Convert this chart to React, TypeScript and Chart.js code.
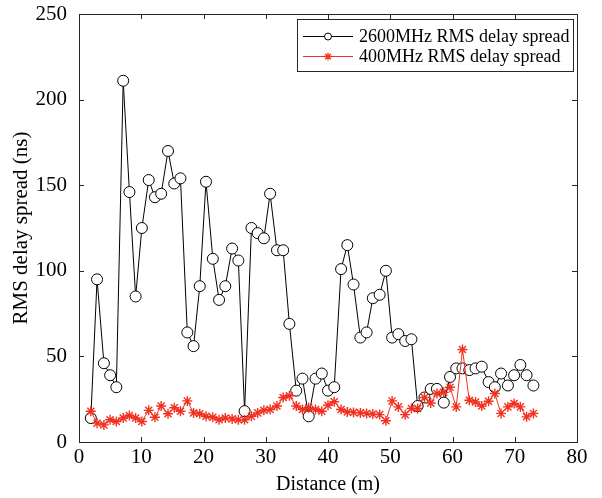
import React, { useEffect, useRef } from "react";
import { Chart, registerables } from "chart.js";

Chart.register(...registerables);

// ---- data ----
const distances = [
  1.9, 2.9, 4.0, 5.0, 6.0, 7.1, 8.1, 9.1, 10.1, 11.2,
  12.2, 13.2, 14.3, 15.3, 16.3, 17.4, 18.4, 19.4, 20.4, 21.5,
  22.5, 23.5, 24.6, 25.6, 26.6, 27.7, 28.7, 29.7, 30.7, 31.8,
  32.8, 33.8, 34.9, 35.9, 36.9, 38.0, 39.0, 40.0, 41.0, 42.1,
  43.1, 44.1, 45.2, 46.2, 47.2, 48.3, 49.3, 50.3, 51.3, 52.4,
  53.4, 54.4, 55.5, 56.5, 57.5, 58.6, 59.6, 60.6, 61.6, 62.7,
  63.7, 64.7, 65.8, 66.8, 67.8, 68.9, 69.9, 70.9, 71.9, 73.0,
];

const rms2600 = [
  14, 95, 46, 39, 32, 211, 146, 85, 125, 153,
  143, 145, 170, 151, 154, 64, 56, 91, 152, 107,
  83, 91, 113, 106, 18, 125, 122, 119, 145, 112,
  112, 69, 30, 37, 15, 37, 40, 30, 32, 101,
  115, 92, 61, 64, 84, 86, 100, 61, 63, 59,
  60, 21, 26, 31, 31, 23, 38, 43, 43, 42,
  43, 44, 35, 32, 40, 33, 39, 45, 39, 33,
];

const rms400 = [
  18, 11, 10, 13, 12, 14, 15.5, 14, 12, 18.5,
  14.5, 21, 16.5, 20, 18, 24, 17, 16.5, 15, 14.5,
  13, 14, 13.5, 13, 13, 15, 17, 18.5, 19, 21,
  26, 27, 21, 19, 20, 19, 18, 21.5, 23.5, 19,
  17.5, 17.3, 17, 16.7, 16.3, 16, 12.4, 24, 20.5, 16,
  19.6, 19.6, 26, 22.8, 28.3, 29, 32, 20.5, 54, 24.4,
  23.4, 21, 23.8, 28.3, 16.7, 20.5, 22.5, 20.5, 14.7, 16.7,
];

const xTicks = [0, 10, 20, 30, 40, 50, 60, 70, 80];
const yTicks = [0, 50, 100, 150, 200, 250];
const seriesLabels = ["2600MHz RMS delay spread", "400MHz RMS delay spread"];
const xTitle = "Distance (m)";
const yTitle = "RMS delay spread (ns)";

const AXIS_COLOR = "#262626";
const BLACK = "#000000";
const RED = "#f2301f";
const FONT = "'Liberation Serif', 'Times New Roman', serif";

const boxTicksLegend = {
  id: "boxTicksLegend",
  afterDraw(chart: any) {
    const { ctx, chartArea: a, scales } = chart;
    ctx.save();
    ctx.strokeStyle = AXIS_COLOR;
    ctx.lineWidth = 1;
    ctx.strokeRect(Math.round(a.left) + 0.5, Math.round(a.top) + 0.5, Math.round(a.right - a.left), Math.round(a.bottom - a.top));
    const L = 5;
    ctx.beginPath();
    xTicks.forEach((v) => {
      const px = Math.round(scales.x.getPixelForValue(v)) + 0.5;
      ctx.moveTo(px, a.bottom);
      ctx.lineTo(px, a.bottom - L);
      ctx.moveTo(px, a.top);
      ctx.lineTo(px, a.top + L);
    });
    yTicks.forEach((v) => {
      const py = Math.round(scales.y.getPixelForValue(v)) + 0.5;
      ctx.moveTo(a.left, py);
      ctx.lineTo(a.left + L, py);
      ctx.moveTo(a.right, py);
      ctx.lineTo(a.right - L, py);
    });
    ctx.stroke();

    // legend box
    const bw = 276, bh = 52;
    const bx = Math.round(a.right) - 4 - bw;
    const by = Math.round(a.top) + 5;
    ctx.fillStyle = "#ffffff";
    ctx.fillRect(bx, by, bw, bh);
    ctx.strokeStyle = AXIS_COLOR;
    ctx.strokeRect(bx + 0.5, by + 0.5, bw, bh);

    const rows = [by + 17, by + 37];
    const colors = [BLACK, RED];
    rows.forEach((ry, i) => {
      const x0 = bx + 6, x1 = bx + 56;
      const xm = (x0 + x1) / 2;
      ctx.strokeStyle = colors[i];
      ctx.lineWidth = 1;
      ctx.beginPath();
      ctx.moveTo(x0, ry + 0.5);
      ctx.lineTo(x1, ry + 0.5);
      ctx.stroke();
      if (i === 0) {
        ctx.fillStyle = "#fff";
        ctx.beginPath();
        ctx.arc(xm, ry + 0.5, 3.5, 0, Math.PI * 2);
        ctx.fill();
        ctx.stroke();
      } else {
        const r = 4;
        ctx.lineWidth = 1.3;
        ctx.beginPath();
        for (let k = 0; k < 4; k++) {
          const ang = (k * Math.PI) / 4;
          ctx.moveTo(xm - r * Math.cos(ang), ry + 0.5 - r * Math.sin(ang));
          ctx.lineTo(xm + r * Math.cos(ang), ry + 0.5 + r * Math.sin(ang));
        }
        ctx.stroke();
      }
      ctx.fillStyle = "#000";
      ctx.font = `18px ${FONT}`;
      ctx.textAlign = "left";
      ctx.textBaseline = "middle";
      ctx.fillText(seriesLabels[i], bx + 62, ry + 1);
    });
    ctx.restore();
  },
};

export default function App() {
  const ref = useRef<HTMLCanvasElement | null>(null);

  useEffect(() => {
    if (!ref.current) return;
    const chart = new Chart(ref.current, {
      type: "line",
      data: {
        datasets: [
          {
            label: seriesLabels[0],
            data: distances.map((d, i) => ({ x: d, y: rms2600[i] })),
            borderColor: BLACK,
            borderWidth: 1,
            pointStyle: "circle",
            pointRadius: 5.5,
            pointBorderWidth: 1,
            pointBorderColor: BLACK,
            pointBackgroundColor: "#ffffff",
            tension: 0,
            order: 2,
          },
          {
            label: seriesLabels[1],
            data: distances.map((d, i) => ({ x: d, y: rms400[i] })),
            borderColor: RED,
            borderWidth: 1,
            pointStyle: "star",
            pointRadius: 5,
            pointBorderWidth: 1.4,
            pointBorderColor: RED,
            pointBackgroundColor: RED,
            tension: 0,
            order: 1,
          },
        ],
      },
      options: {
        responsive: false,
        animation: false,
        events: [],
        devicePixelRatio: 1,
        layout: { padding: { top: 14, right: 25, left: 0, bottom: 0 } },
        plugins: {
          legend: { display: false },
          tooltip: { enabled: false },
        },
        scales: {
          x: {
            type: "linear",
            min: 0,
            max: 80,
            afterFit: (s: any) => { s.height = 56; s.paddingLeft = 0; s.paddingRight = 0; },
            afterBuildTicks: (s: any) => { s.ticks = xTicks.map((v) => ({ value: v })); },
            grid: { display: false, drawTicks: false },
            border: { display: false },
            ticks: { color: "#000", font: { family: FONT, size: 21 }, padding: 3, maxRotation: 0 },
            title: { display: true, text: xTitle, color: "#000", font: { family: FONT, size: 20 }, padding: { top: 0, bottom: 1 } },
          },
          y: {
            type: "linear",
            min: 0,
            max: 250,
            afterFit: (s: any) => { s.width = 79; s.paddingTop = 0; s.paddingBottom = 0; },
            afterBuildTicks: (s: any) => { s.ticks = yTicks.map((v) => ({ value: v })); },
            grid: { display: false, drawTicks: false },
            border: { display: false },
            ticks: { color: "#000", font: { family: FONT, size: 21 }, padding: 12 },
            title: { display: true, text: yTitle, color: "#000", font: { family: FONT, size: 21 }, padding: { top: 9, bottom: 0 } },
          },
        },
      },
      plugins: [boxTicksLegend],
    });
    return () => chart.destroy();
  }, []);

  return (
    <div style={{ position: "absolute", left: 0, top: 0, width: 602, height: 498, background: "#fff" }}>
      <canvas ref={ref} width={602} height={498} style={{ width: 602, height: 498, display: "block" }} />
    </div>
  );
}
